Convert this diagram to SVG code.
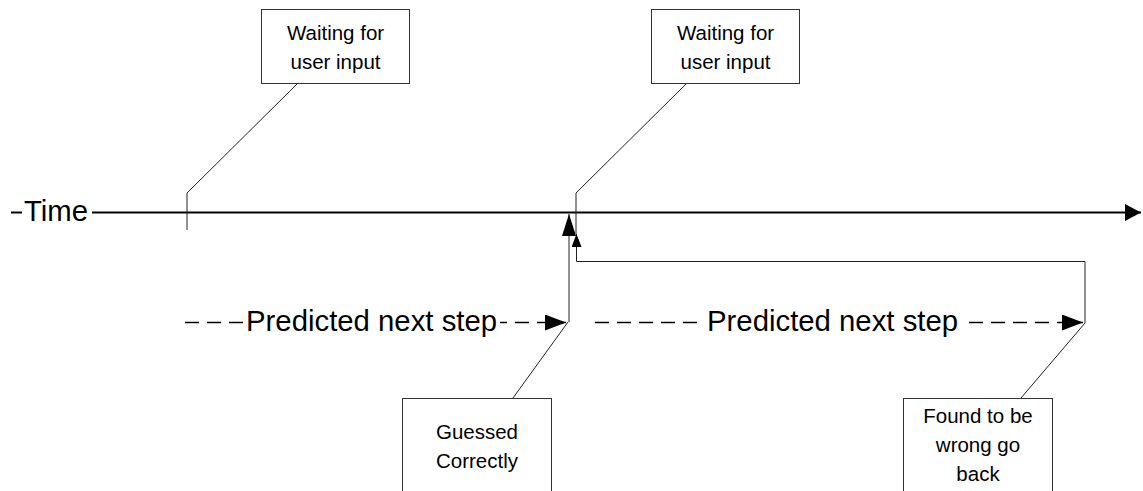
<svg xmlns="http://www.w3.org/2000/svg" width="1143" height="491" viewBox="0 0 1143 491">
  <style>
    .box { fill: #ffffff; stroke: #333333; stroke-width: 1; }
    .lbl { font-family: "Liberation Sans", Arial, sans-serif; font-size: 20.5px; fill: #000000; text-anchor: middle; }
    .big { font-family: "Liberation Sans", Arial, sans-serif; font-size: 29.33px; fill: #000000; }
    .thin { fill: none; stroke: #222222; stroke-width: 1; }
    .axis { fill: none; stroke: #000000; stroke-width: 2; }
    .dash { fill: none; stroke: #000000; stroke-width: 1.6; stroke-dasharray: 14 8; }
    .bg { fill: #ffffff; stroke: none; }
  </style>
  <defs>
    <marker id="axisArrow" markerUnits="userSpaceOnUse" viewBox="0 0 16 17" refX="16" refY="8.5" markerWidth="16" markerHeight="17" orient="auto">
      <path d="M0,0 L16,8.5 L0,17 z" fill="#000000"/>
    </marker>
    <marker id="predArrow" markerUnits="userSpaceOnUse" viewBox="0 0 21 16" refX="21" refY="8" markerWidth="21" markerHeight="16" orient="auto">
      <path d="M0,0 L21,8 L0,16 z" fill="#000000"/>
    </marker>
    <marker id="upBig" markerUnits="userSpaceOnUse" viewBox="0 0 22 14" refX="22" refY="7" markerWidth="22" markerHeight="14" orient="auto">
      <path d="M0,0 L22,7 L0,14 z" fill="#000000"/>
    </marker>
    <marker id="upSmall" markerUnits="userSpaceOnUse" viewBox="0 0 13 10" refX="13" refY="5" markerWidth="13" markerHeight="10" orient="auto">
      <path d="M0,0 L13,5 L0,10 z" fill="#000000"/>
    </marker>
  </defs>

  <g id="connectors">
    <!-- time axis -->
    <line class="axis" x1="11" y1="212.5" x2="1141" y2="212.5" marker-end="url(#axisArrow)"/>
    <!-- leaders from waiting boxes -->
    <polyline class="thin" points="298,83 187,193 187,230"/>
    <polyline class="thin" points="687,83 576,193 576,234"/>
    <!-- predicted next step arrows -->
    <line class="dash" x1="185" y1="322.5" x2="566" y2="322.5" marker-end="url(#predArrow)"/>
    <line class="dash" x1="595" y1="322.5" x2="1083" y2="322.5" marker-end="url(#predArrow)"/>
    <!-- guessed correctly: up to time line -->
    <line class="thin" x1="569" y1="322" x2="569" y2="214" marker-end="url(#upBig)"/>
    <!-- found wrong: go back -->
    <polyline class="thin" points="1085,323 1085,261.5 576.5,261.5 576.5,234" marker-end="url(#upSmall)"/>
    <!-- leaders from bottom boxes -->
    <line class="thin" x1="513" y1="398" x2="568" y2="322"/>
    <line class="thin" x1="1021" y1="398" x2="1085" y2="323"/>
  </g>

  <g id="label-time">
    <rect class="bg" x="22" y="196" width="70" height="30"/>
    <text class="big" x="24" y="221">Time</text>
  </g>

  <g id="label-predicted-1">
    <rect class="bg" x="243" y="308" width="257" height="30"/>
    <text class="big" x="246" y="331">Predicted next step</text>
  </g>

  <g id="label-predicted-2">
    <rect class="bg" x="704" y="308" width="258" height="30"/>
    <text class="big" x="707" y="331">Predicted next step</text>
  </g>

  <g id="node-waiting-1">
    <rect class="box" x="261.5" y="9.5" width="148" height="74"/>
    <text class="lbl" x="335.5" y="40">Waiting for</text>
    <text class="lbl" x="335.5" y="69">user input</text>
  </g>

  <g id="node-waiting-2">
    <rect class="box" x="651.5" y="9.5" width="148" height="74"/>
    <text class="lbl" x="725.5" y="40">Waiting for</text>
    <text class="lbl" x="725.5" y="69">user input</text>
  </g>

  <g id="node-guessed">
    <rect class="box" x="402.5" y="398.5" width="149" height="110"/>
    <text class="lbl" x="477" y="439">Guessed</text>
    <text class="lbl" x="477" y="468">Correctly</text>
  </g>

  <g id="node-found">
    <rect class="box" x="903.5" y="398.5" width="149" height="110"/>
    <text class="lbl" x="978" y="423">Found to be</text>
    <text class="lbl" x="978" y="452">wrong go</text>
    <text class="lbl" x="978" y="481">back</text>
  </g>
</svg>
